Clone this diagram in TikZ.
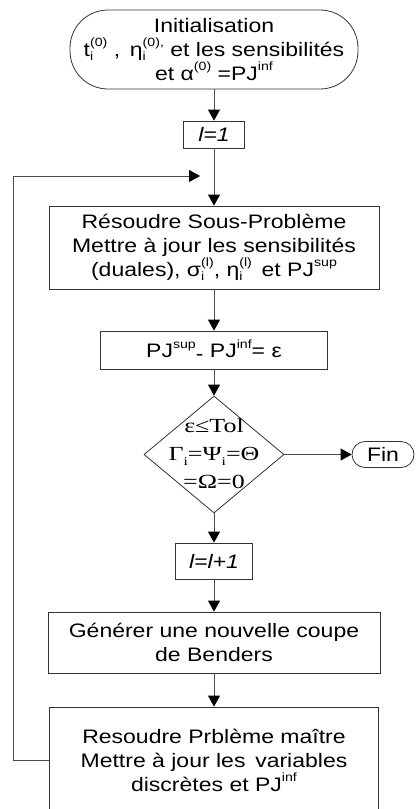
\documentclass[tikz,border=0pt]{standalone}
\usepackage{fontspec}
\setmainfont{Liberation Sans}[FakeStretch=1.18]
\newfontfamily\serifdia{Liberation Serif}[FakeStretch=1.3]
\usetikzlibrary{shapes.geometric,arrows.meta}
\newcommand\sps[1]{\raisebox{0.5em}{\fontsize{12}{12}\selectfont #1}}
\newcommand\sbs[1]{\raisebox{-0.22em}{\fontsize{12}{12}\selectfont #1}}
\newcommand\supsb[2]{\rlap{\sbs{#1}}\sps{#2}}
\tikzset{
  boxstyle/.style={draw=black!80, line width=0.8pt, inner sep=0pt, align=center,
    font=\fontsize{19.5}{24}\selectfont},
  conn/.style={draw=black!70, line width=0.8pt, -{Triangle[length=11pt,width=12pt,color=black]}},
}
\begin{document}
\begin{tikzpicture}[x=1pt,y=-1pt]
\useasboundingbox (0,0) rectangle (417,809);
\node[boxstyle, minimum width=288pt, minimum height=79pt, rounded corners=38pt] (init) at (214,49.5)
  {Initialisation\\ t\supsb{i}{(0)} ,\enspace η\supsb{i}{(0)}\sps{,} et les sensibilités\\ et α\sps{(0)} =PJ\sps{inf}};
\node[boxstyle, minimum width=61pt, minimum height=27pt, font=\fontsize{19.5}{24}\selectfont\itshape] (l1) at (214,134.5) {l=1};
\node[boxstyle, minimum width=330pt, minimum height=83pt] (res) at (214,247.5)
  {Résoudre Sous-Problème\\ Mettre à jour les sensibilités\\ (duales), σ\supsb{i}{(l)}, η\supsb{i}{(l)}\enspace et PJ\sps{sup}};
\node[boxstyle, minimum width=227pt, minimum height=38pt] (pj) at (214,350)
  {PJ\sps{sup}\raisebox{-0.15em}{-} PJ\sps{inf}= ε};
\node[draw=black!80, line width=0.8pt, diamond, inner sep=0pt, minimum width=140pt, minimum height=117pt] (dia) at (214,454.5) {};
\node[align=center, inner sep=0pt, font=\serifdia\fontsize{20}{28}\selectfont] (diatext) at (214,454)
  {ε≤Tol\\ Γ\sbs{i}=Ψ\sbs{i}=Θ\\ =Ω=0};
\node[boxstyle, minimum width=62pt, minimum height=26pt, rounded corners=13pt] (fin) at (383,454.5) {Fin};
\node[boxstyle, minimum width=77pt, minimum height=36pt, font=\fontsize{19.5}{24}\selectfont\itshape] (l2) at (214,561) {l=l+1};
\node[boxstyle, minimum width=332pt, minimum height=61pt] (gen) at (214,642.5)
  {Générer une nouvelle coupe\\ de Benders};
\node[boxstyle, minimum width=329pt, minimum height=106pt] (mas) at (214,760)
  {Resoudre Prblème maître\\ Mettre à jour les\enspace variables\\ discrètes et PJ\sps{inf}};
\coordinate (fbT) at (13,176);
\coordinate (fbE) at (200,176);
\draw[conn] (init) -- (l1);
\draw[conn] (l1) -- (res);
\draw[conn] (res) -- (pj);
\draw[conn] (pj) -- (dia);
\draw[conn] (dia) -- (fin);
\draw[conn] (dia) -- (l2);
\draw[conn] (l2) -- (gen);
\draw[conn] (gen) -- (mas);
\draw[conn] (mas.west) -| (fbT) -- (fbE);
\end{tikzpicture}
\end{document}
